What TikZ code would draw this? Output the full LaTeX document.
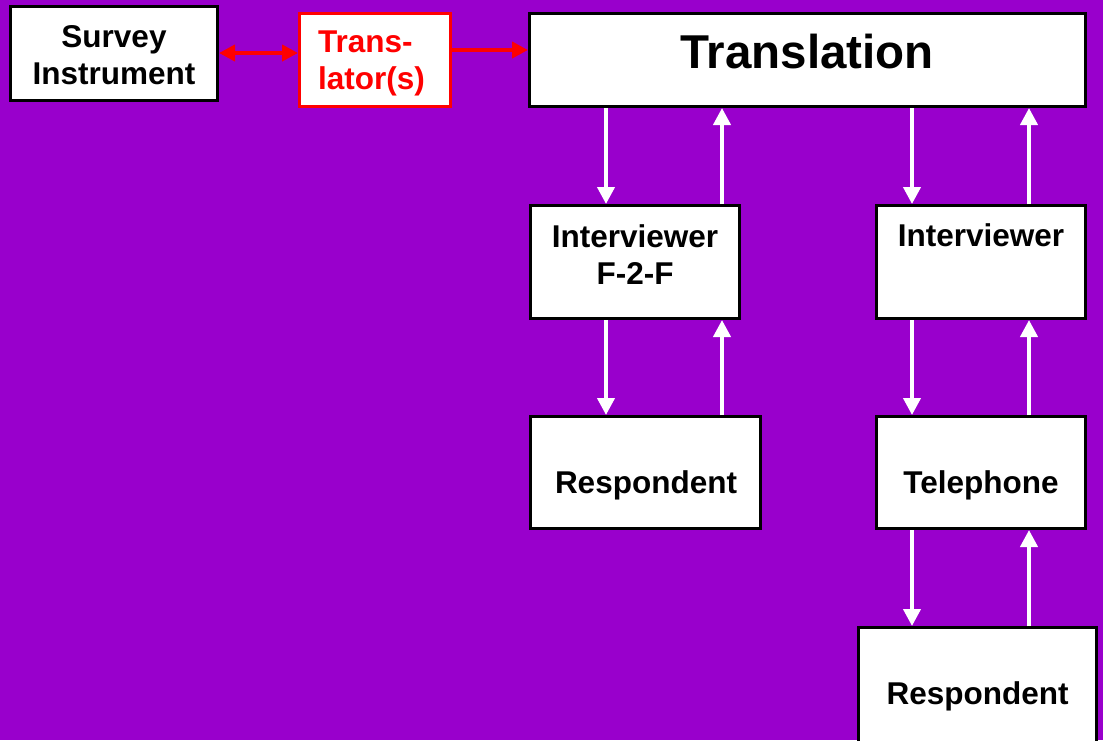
\documentclass[tikz,border=0pt]{standalone}
\usepackage{fontspec}
\setmainfont{Liberation Sans}
\usetikzlibrary{arrows.meta}
\definecolor{bgpurple}{HTML}{9900CC}
\definecolor{txtred}{HTML}{FF0000}
\begin{document}
\begin{tikzpicture}[x=1pt,y=-1pt,
  box/.style={draw=black,line width=3pt,fill=white,inner sep=0pt,rectangle},
  redbox/.style={box,draw=txtred},
  lbl/.style={inner sep=0pt,font=\bfseries\fontsize{31.5}{37}\selectfont},
  biglbl/.style={inner sep=0pt,font=\bfseries\fontsize{47.5}{52}\selectfont},
  warrow/.style={draw=white,line width=4pt,-{Triangle[width=17pt,length=17pt]}},
  rarrow/.style={draw=txtred,line width=4pt,-{Triangle[width=16pt,length=16pt]}},
  rdarrow/.style={draw=txtred,line width=4pt,{Triangle[width=16pt,length=16pt]}-{Triangle[width=16pt,length=16pt]}}]
  % canvas
  \fill[bgpurple] (0,0) rectangle (1103,740);
  \useasboundingbox (0,0) rectangle (1103,740);
  \clip (0,0) rectangle (1103,740);

  % boxes
  \node[box,minimum width=207pt,minimum height=94pt] (survey) at (114,53.5) {};
  \node[redbox,minimum width=151pt,minimum height=93pt] (transl) at (375,60) {};
  \node[box,minimum width=556pt,minimum height=93pt] (trans) at (807.5,60) {};
  \node[box,minimum width=209pt,minimum height=113pt] (ivf) at (635,262) {};
  \node[box,minimum width=209pt,minimum height=113pt] (ivt) at (981,262) {};
  \node[box,minimum width=230pt,minimum height=112pt] (resp1) at (645.5,472.5) {};
  \node[box,minimum width=209pt,minimum height=112pt] (tel) at (981,472.5) {};
  \node[box,minimum width=238pt,minimum height=115pt] (resp2) at (977.5,685) {};

  % labels
  \node[lbl,align=center,anchor=north] (surveyT) at (114,25) {Survey\\Instrument};
  \node[lbl,align=left,anchor=north west,text=txtred] (translT) at (318,31) {Trans-\\lator(s)};
  \node[biglbl,anchor=base] (transT) at (807,68) {Translation};
  \node[lbl,align=center,anchor=north] (ivfT) at (635,224) {Interviewer\\F-2-F};
  \node[lbl,anchor=base] (ivtT) at (981,246) {Interviewer};
  \node[lbl,anchor=base] (resp1T) at (646,493) {Respondent};
  \node[lbl,anchor=base] (telT) at (981,493) {Telephone};
  \node[lbl,anchor=base] (resp2T) at (977.5,704) {Respondent};

  % arrow columns and rows
  \coordinate (xa) at (606,0);
  \coordinate (xb) at (722,0);
  \coordinate (xc) at (912,0);
  \coordinate (xd) at (1029,0);
  \coordinate (ya) at (0,53);
  \coordinate (yb) at (0,50);

  % red connectors
  \draw[rdarrow] (ya -| survey.east) -- (ya -| transl.west);
  \draw[rarrow] (yb -| transl.east) -- (yb -| trans.west);

  % face-to-face column
  \draw[warrow] (trans.south -| xa) -- (ivf.north -| xa);
  \draw[warrow] (ivf.north -| xb) -- (trans.south -| xb);
  \draw[warrow] (ivf.south -| xa) -- (resp1.north -| xa);
  \draw[warrow] (resp1.north -| xb) -- (ivf.south -| xb);

  % telephone column
  \draw[warrow] (trans.south -| xc) -- (ivt.north -| xc);
  \draw[warrow] (ivt.north -| xd) -- (trans.south -| xd);
  \draw[warrow] (ivt.south -| xc) -- (tel.north -| xc);
  \draw[warrow] (tel.north -| xd) -- (ivt.south -| xd);
  \draw[warrow] (tel.south -| xc) -- (resp2.north -| xc);
  \draw[warrow] (resp2.north -| xd) -- (tel.south -| xd);
\end{tikzpicture}
\end{document}
